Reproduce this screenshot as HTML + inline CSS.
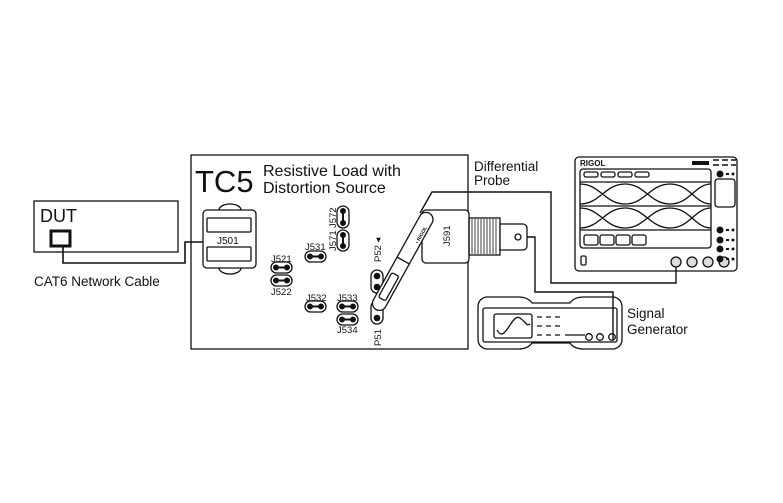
<!DOCTYPE html>
<html><head><meta charset="utf-8"><style>
html,body{margin:0;padding:0;background:#fff;}
svg{display:block;}
text{font-family:"Liberation Sans",sans-serif;fill:#111;}
</style></head><body>
<svg width="783" height="503" viewBox="0 0 783 503" xmlns="http://www.w3.org/2000/svg">
<g fill="none" stroke="#111" stroke-width="1.3">
<rect x="34" y="201" width="144" height="51"/>
<rect x="51" y="231" width="19" height="15" stroke-width="3"/>
<polyline points="63,246 63,263 185,263 185,242 203,242" stroke-width="1.6"/>
<rect x="191" y="155" width="277" height="194"/>
<path d="M219,210 a11,6 0 0 1 22,0 M219,268 a11,6 0 0 0 22,0"/>
<rect x="203" y="210" width="53" height="58" rx="4" fill="#fff"/>
<rect x="207" y="218" width="44" height="14" rx="1"/>
<rect x="207" y="247" width="44" height="14" rx="1"/>
<rect x="271" y="262" width="21" height="11" rx="5.5"/>
<rect x="271" y="275" width="21" height="11" rx="5.5"/>
<rect x="305" y="251" width="21" height="11" rx="5.5"/>
<rect x="305" y="301" width="21" height="11" rx="5.5"/>
<rect x="337" y="301" width="21" height="11" rx="5.5"/>
<rect x="337" y="314" width="21" height="11" rx="5.5"/>
<rect x="337" y="206" width="12" height="22" rx="6"/>
<rect x="337" y="230" width="12" height="21" rx="6"/>
<rect x="371" y="270" width="12" height="23" rx="6"/>
<rect x="371" y="301" width="12" height="23" rx="6"/>
</g>
<g stroke="#111" stroke-width="2" fill="#111">
<line x1="276" y1="267.5" x2="287" y2="267.5"/><circle cx="276" cy="267.5" r="2"/><circle cx="287" cy="267.5" r="2"/>
<line x1="276" y1="280.5" x2="287" y2="280.5"/><circle cx="276" cy="280.5" r="2"/><circle cx="287" cy="280.5" r="2"/>
<line x1="310" y1="256.5" x2="321" y2="256.5"/><circle cx="310" cy="256.5" r="2"/><circle cx="321" cy="256.5" r="2"/>
<line x1="310" y1="306.5" x2="321" y2="306.5"/><circle cx="310" cy="306.5" r="2"/><circle cx="321" cy="306.5" r="2"/>
<line x1="342" y1="306.5" x2="353" y2="306.5"/><circle cx="342" cy="306.5" r="2"/><circle cx="353" cy="306.5" r="2"/>
<line x1="342" y1="319.5" x2="353" y2="319.5"/><circle cx="342" cy="319.5" r="2"/><circle cx="353" cy="319.5" r="2"/>
<line x1="343" y1="211" x2="343" y2="223"/><circle cx="343" cy="211" r="2"/><circle cx="343" cy="223" r="2"/>
<line x1="343" y1="235" x2="343" y2="246"/><circle cx="343" cy="235" r="2"/><circle cx="343" cy="246" r="2"/>
<circle cx="377" cy="276" r="2.3"/><circle cx="377" cy="287" r="2.3"/>
<circle cx="377" cy="307" r="2.3"/><circle cx="377" cy="318" r="2.3"/>
</g>
<g fill="none" stroke="#111" stroke-width="1.3">
<rect x="422" y="210" width="47" height="53" rx="4" fill="#fff"/>
<rect x="469" y="218" width="31" height="37"/>
<g stroke-width="0.8"><path d="M472,219v35M475,219v35M478,219v35M481,219v35M484,219v35M487,219v35M490,219v35M493,219v35M496,219v35"/></g>
<path d="M500,224 h23 a4,4 0 0 1 4,4 v18 a4,4 0 0 1 -4,4 h-23 z" fill="#fff"/>
<circle cx="518" cy="237" r="3"/>
<g transform="translate(378,306) rotate(-61)">
<rect x="-4" y="-7" width="110" height="14" rx="7" fill="#fff"/>
<rect x="8" y="-4" width="28" height="8" rx="2"/>
<line x1="52" y1="-7" x2="52" y2="7"/>
</g>
<polyline points="527,237 535,237 535,292 613,292 613,340" stroke-width="1.4"/>
<polyline points="420,213 432,192 551,192 551,283 676,283 676,264" stroke-width="1.4"/>
<rect x="575" y="157" width="162" height="114" rx="4"/>
<rect x="580" y="169" width="131" height="79" rx="3"/>
<line x1="580" y1="182" x2="711" y2="182"/><line x1="580" y1="206" x2="711" y2="206"/><line x1="580" y1="230" x2="711" y2="230"/>
<rect x="584" y="172" width="14" height="5" rx="2"/><rect x="601" y="172" width="14" height="5" rx="2"/><rect x="618" y="172" width="14" height="5" rx="2"/><rect x="635" y="172" width="14" height="5" rx="2"/>
<rect x="584" y="235" width="14" height="10" rx="2"/><rect x="600" y="235" width="14" height="10" rx="2"/><rect x="616" y="235" width="14" height="10" rx="2"/><rect x="632" y="235" width="14" height="10" rx="2"/>
<path d="M580,184 C600,184 605,204 625,204 C645,204 650,184 670,184 C690,184 695,204 711,204 M580,204 C600,204 605,184 625,184 C645,184 650,204 670,204 C690,204 695,184 711,184"/>
<path d="M580,208 C600,208 605,228 625,228 C645,228 650,208 670,208 C690,208 695,228 711,228 M580,228 C600,228 605,208 625,208 C645,208 650,228 670,228 C690,228 695,208 711,208"/>
<rect x="715" y="179" width="20" height="28" rx="3"/>
<rect x="581" y="256" width="5" height="9" rx="1.5"/>
<g fill="#ddd"><circle cx="676" cy="262" r="5"/><circle cx="692" cy="262" r="5"/><circle cx="708" cy="262" r="5"/><circle cx="724" cy="262" r="5"/></g>
<path d="M478,307 q0,-8 8,-10 h32 q10,0 14,6 h38 q4,-6 14,-6 h30 q8,2 8,10 v32 q0,8 -8,10 h-30 q-10,0 -14,-6 h-38 q-4,6 -14,6 h-32 q-8,-2 -8,-10 z"/>
<rect x="483" y="308" width="134" height="34" rx="2"/>
<rect x="494" y="314" width="38" height="24" rx="2"/>
<path d="M497,330 C505,345 512,312 520,318 S526,326 530,324"/>
<path d="M537,317h5M546,317h5M555,317h5M537,326h5M546,326h5M555,326h5M537,335h5M546,335h5M555,335h5M565,335h20"/>
<circle cx="589" cy="337" r="3.3"/><circle cx="600" cy="337" r="3.3"/><circle cx="612" cy="337" r="3.3"/>
</g>
<g fill="#111">
<rect x="692" y="161" width="17" height="4"/>
<path d="M713,160h6M722,160h6M731,160h5M713,165h6M722,165h6M731,165h5" stroke="#111" stroke-width="1.6"/>
<circle cx="720" cy="174" r="3.5"/><circle cx="720" cy="230" r="3.5"/><circle cx="720" cy="240" r="3.5"/><circle cx="720" cy="249" r="3.5"/><circle cx="720" cy="259" r="3.5"/>
<path d="M726,174h3M726,230h3M726,240h3M726,249h3M726,259h3" stroke="#111" stroke-width="2"/>
<circle cx="733" cy="174" r="1.5"/><circle cx="733" cy="230" r="1.5"/><circle cx="733" cy="240" r="1.5"/><circle cx="733" cy="249" r="1.5"/><circle cx="733" cy="259" r="1.5"/>
</g>
<text x="40" y="222" font-size="18">DUT</text>
<text x="34" y="286" font-size="13.5">CAT6 Network Cable</text>
<text x="195" y="192" font-size="31">TC5</text>
<text x="263" y="176" font-size="16">Resistive Load with</text>
<text x="263" y="193" font-size="16">Distortion Source</text>
<text x="217" y="244" font-size="10">J501</text>
<text x="271" y="262" font-size="9.5">J521</text>
<text x="271" y="295" font-size="9.5">J522</text>
<text x="305" y="250" font-size="9.5">J531</text>
<text x="306" y="301" font-size="9.5">J532</text>
<text x="337" y="301" font-size="9.5">J533</text>
<text x="337" y="333" font-size="9.5">J534</text>
<text transform="translate(336,228) rotate(-90)" font-size="9.5">J572</text>
<text transform="translate(336,251) rotate(-90)" font-size="9.5">J571</text>
<text transform="translate(381,262) rotate(-90)" font-size="9.5">P52 ◂</text>
<text transform="translate(381,346) rotate(-90)" font-size="9.5">P51</text>
<text transform="translate(450,246) rotate(-90)" font-size="9.5">J591</text>
<text transform="translate(418,244) rotate(-61)" font-size="5" font-weight="bold">• RIGOL</text>
<text x="474" y="171" font-size="13.5">Differential</text>
<text x="474" y="185" font-size="13.5">Probe</text>
<text x="580" y="166" font-size="8" font-family="Liberation Serif" font-weight="bold">RIGOL</text>
<text x="627" y="318" font-size="13.5">Signal</text>
<text x="627" y="334" font-size="13.5">Generator</text>
</svg>
</body></html>
